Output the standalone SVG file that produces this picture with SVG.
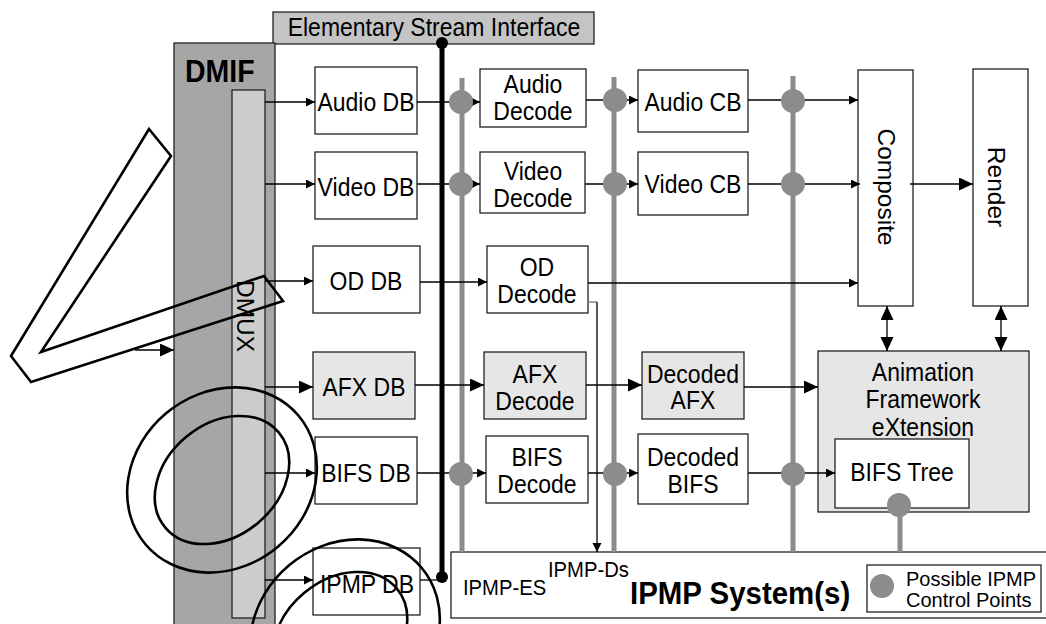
<svg xmlns="http://www.w3.org/2000/svg" width="1046" height="624" viewBox="0 0 1046 624">
<defs>
<style>
.bx{fill:#fff;stroke:#222;stroke-width:1.3}
.lt{fill:#e6e6e6;stroke:#222;stroke-width:1.3}
.t{font-family:"Liberation Sans",Arial,sans-serif;font-size:25px;fill:#000;text-anchor:middle;transform:scaleX(0.92);transform-box:fill-box;transform-origin:center}
.sl{font-family:"Liberation Sans",Arial,sans-serif;transform:scaleX(0.92);transform-box:fill-box;transform-origin:left}
.lg{font-family:"Liberation Sans",Arial,sans-serif;font-size:20px}
.tr{font-family:"Liberation Sans",Arial,sans-serif;font-size:24.5px;fill:#000;text-anchor:middle}
.c{fill:none;stroke:#000;stroke-width:1.3}
.bar{fill:none;stroke:#8c8c8c;stroke-width:5}
.dot{fill:#8c8c8c}
.ann{fill:none;stroke:#000;stroke-width:2.6}
</style>
<marker id="s" markerUnits="userSpaceOnUse" markerWidth="10" markerHeight="10" refX="9" refY="4.5" orient="auto"><path d="M0,0 L9,4.5 L0,9 z" fill="#000"/></marker>
<marker id="l" markerUnits="userSpaceOnUse" markerWidth="15" markerHeight="14" refX="14" refY="6.5" orient="auto-start-reverse"><path d="M0,0 L14,6.5 L0,13 z" fill="#000"/></marker>
</defs>
<rect width="1046" height="624" fill="#fff"/>

<g id="esi"><rect x="273" y="12" width="321" height="32" fill="#c4c4c4" stroke="#222" stroke-width="1.3"/><text class="t" x="434" y="36">Elementary Stream Interface</text></g>
<g id="dmif"><rect x="174" y="43" width="101" height="590" fill="#a6a6a6" stroke="#222" stroke-width="1.3"/><text class="sl" x="185" y="82" font-size="31" font-weight="bold">DMIF</text></g>
<g id="dmux"><rect x="232" y="90" width="33" height="528" fill="#cccccc" stroke="#222" stroke-width="1.3"/><text class="tr" font-size="23" transform="translate(245,316) rotate(90)" y="8">DMUX</text></g>

<g id="audio-db"><rect class="bx" x="315" y="67" width="102" height="67"/><text class="t" x="366" y="111">Audio DB</text></g>
<g id="video-db"><rect class="bx" x="315" y="152" width="102" height="67"/><text class="t" x="366" y="196">Video DB</text></g>
<g id="od-db"><rect class="bx" x="313" y="246" width="107" height="67"/><text class="t" x="366" y="290">OD DB</text></g>
<g id="afx-db"><rect class="lt" x="313" y="352" width="102" height="67"/><text class="t" x="364" y="396">AFX DB</text></g>
<g id="bifs-db"><rect class="bx" x="315" y="437" width="102" height="67"/><text class="t" x="366" y="482">BIFS DB</text></g>
<g id="ipmp-db"><rect class="bx" x="313" y="548" width="107" height="67"/><text class="t" x="367" y="593">IPMP DB</text></g>

<g id="audio-decode"><rect class="bx" x="480" y="69" width="106" height="58"/><text class="t" x="533" y="93">Audio</text><text class="t" x="533" y="120">Decode</text></g>
<g id="video-decode"><rect class="bx" x="480" y="152" width="105" height="61"/><text class="t" x="533" y="180">Video</text><text class="t" x="533" y="207">Decode</text></g>
<g id="od-decode"><rect class="bx" x="487" y="246" width="101" height="67"/><text class="t" x="537" y="276">OD</text><text class="t" x="537" y="303">Decode</text></g>
<g id="afx-decode"><rect class="lt" x="484" y="352" width="102" height="67"/><text class="t" x="535" y="383">AFX</text><text class="t" x="535" y="410">Decode</text></g>
<g id="bifs-decode"><rect class="bx" x="486" y="436" width="102" height="67"/><text class="t" x="537" y="466">BIFS</text><text class="t" x="537" y="493">Decode</text></g>

<g id="audio-cb"><rect class="bx" x="638" y="70" width="110" height="62"/><text class="t" x="693" y="111">Audio CB</text></g>
<g id="video-cb"><rect class="bx" x="638" y="152" width="110" height="63"/><text class="t" x="693" y="193">Video CB</text></g>
<g id="decoded-afx"><rect class="lt" x="642" y="352" width="102" height="67"/><text class="t" x="693" y="383">Decoded</text><text class="t" x="693" y="409">AFX</text></g>
<g id="decoded-bifs"><rect class="bx" x="638" y="434" width="110" height="70"/><text class="t" x="693" y="466">Decoded</text><text class="t" x="693" y="493">BIFS</text></g>

<g id="composite"><rect class="bx" x="858" y="70" width="55" height="236"/><text class="tr" transform="translate(886,187) rotate(90)" y="8.5">Composite</text></g>
<g id="render"><rect class="bx" x="973" y="69" width="55" height="237"/><text class="tr" transform="translate(996,187) rotate(90)" y="8.5">Render</text></g>

<g id="afx"><rect class="lt" x="818" y="351" width="211" height="161"/><text class="t" x="923" y="381">Animation</text><text class="t" x="923" y="408">Framework</text><text class="t" x="923" y="436">eXtension</text></g>
<g id="bifs-tree"><rect class="bx" x="835" y="439" width="134" height="69"/><text class="t" x="902" y="481">BIFS Tree</text></g>

<g id="ipmp-system"><rect class="bx" x="451" y="552" width="610" height="66"/><text class="sl" x="463" y="595" font-size="22">IPMP-ES</text><text class="sl" x="548" y="577" font-size="22">IPMP-Ds</text><text class="sl" x="630" y="604" font-size="32" font-weight="bold">IPMP System(s)</text></g>
<g id="legend"><rect class="bx" x="867" y="565" width="174" height="47"/><circle class="dot" cx="882" cy="586" r="12"/><text class="lg" x="906" y="586">Possible IPMP</text><text class="lg" x="906" y="607">Control Points</text></g>

<g id="control-bars">
<path class="bar" d="M462,78 V552 M614,77 V552 M793,76 V552 M900,505 V552"/>
</g>

<g id="connectors">
<path class="c" d="M135,350 H174" marker-end="url(#l)"/>
<path class="c" d="M265,102 H315" marker-end="url(#s)"/>
<path class="c" d="M265,184 H315" marker-end="url(#s)"/>
<path class="c" d="M265,281 H313" marker-end="url(#s)"/>
<path class="c" d="M265,387 H313" marker-end="url(#l)"/>
<path class="c" d="M265,473 H315" marker-end="url(#s)"/>
<path class="c" d="M265,580 H313" marker-end="url(#s)"/>
<path class="c" d="M417,102 H480" marker-end="url(#s)"/>
<path class="c" d="M417,184 H480" marker-end="url(#s)"/>
<path class="c" d="M420,282 H487" marker-end="url(#s)"/>
<path class="c" d="M415,385 H484" marker-end="url(#l)"/>
<path class="c" d="M417,473 H486" marker-end="url(#s)"/>
<path class="c" d="M420,580 H442"/>
<path class="c" d="M586,100 H638" marker-end="url(#s)"/>
<path class="c" d="M585,184 H638" marker-end="url(#s)"/>
<path class="c" d="M586,385 H642" marker-end="url(#l)"/>
<path class="c" d="M588,473 H638" marker-end="url(#s)"/>
<path class="c" d="M748,100 H858" marker-end="url(#s)"/>
<path class="c" d="M748,184 H860" marker-end="url(#s)"/>
<path class="c" d="M588,283 H858" marker-end="url(#s)"/>
<path class="c" d="M910,184 H973" marker-end="url(#l)"/>
<path class="c" d="M744,387 H818" marker-end="url(#l)"/>
<path class="c" d="M748,473 H835" marker-end="url(#s)"/>
<path class="c" d="M887,306 V351" marker-start="url(#l)" marker-end="url(#l)"/>
<path class="c" d="M1001,306 V351" marker-start="url(#l)" marker-end="url(#l)"/>
<path d="M588,302 H597" fill="none" stroke="#777" stroke-width="1.3"/>
<path class="c" d="M597,302 V552" marker-end="url(#s)"/>
<path d="M442,43 V577" fill="none" stroke="#000" stroke-width="5"/>
<circle cx="442" cy="43" r="6" fill="#000"/>
<circle cx="442" cy="577" r="6" fill="#000"/>
</g>

<g id="control-points">
<circle class="dot" cx="461" cy="102" r="12"/>
<circle class="dot" cx="461" cy="184" r="12"/>
<circle class="dot" cx="461" cy="474" r="12"/>
<circle class="dot" cx="615" cy="100" r="12"/>
<circle class="dot" cx="615" cy="184" r="12"/>
<circle class="dot" cx="615" cy="474" r="12"/>
<circle class="dot" cx="793" cy="101" r="12"/>
<circle class="dot" cx="793" cy="184" r="12"/>
<circle class="dot" cx="793" cy="474" r="12"/>
<circle class="dot" cx="899" cy="505" r="12"/>
</g>

<g id="annotations">
<polygon class="ann" points="149,129 171,156 41,352 264,276 283,301 31,382 11,356"/>
<ellipse class="ann" cx="222" cy="480" rx="100" ry="87" transform="rotate(-40 222 480)"/>
<ellipse class="ann" cx="222" cy="480" rx="74" ry="56" transform="rotate(-40 222 480)"/>
<ellipse class="ann" cx="345" cy="632" rx="100" ry="87" transform="rotate(-40 345 632)"/>
<ellipse class="ann" cx="340" cy="636" rx="74" ry="56" transform="rotate(-40 340 636)"/>
</g>
</svg>
